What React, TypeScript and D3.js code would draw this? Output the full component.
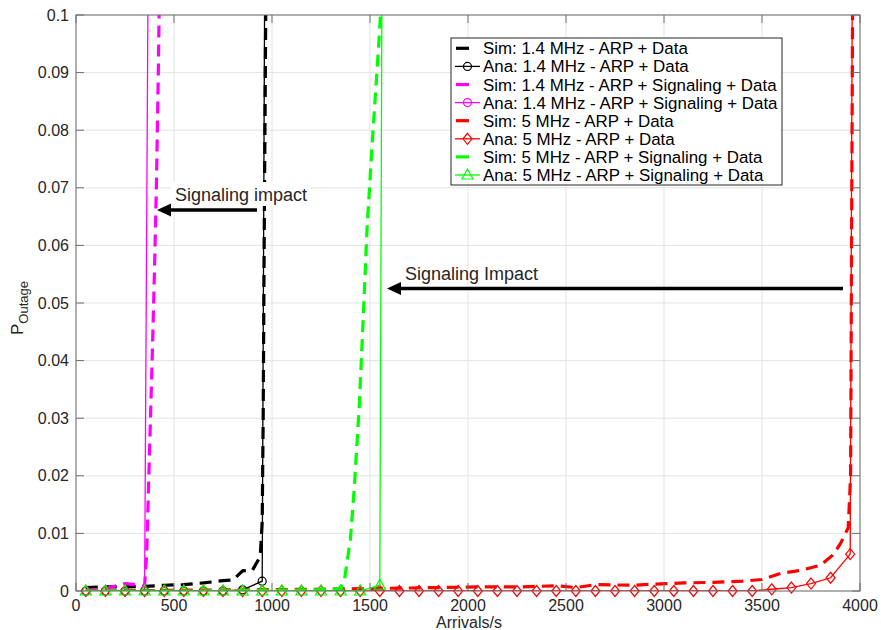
import React from 'react';
import * as d3 from 'd3';

type Pt = [number, number];

// x ticks / y ticks
const X_TICKS = [0, 500, 1000, 1500, 2000, 2500, 3000, 3500, 4000];
const Y_TICKS = [0, 0.01, 0.02, 0.03, 0.04, 0.05, 0.06, 0.07, 0.08, 0.09, 0.1];

// 1.4 MHz - ARP + Data
const sim14Data: Pt[] = [
  [50, 0.0006], [150, 0.0007], [250, 0.0007], [350, 0.0008], [450, 0.001], [550, 0.0011],
  [650, 0.0014], [750, 0.0018], [800, 0.0019], [850, 0.0035], [900, 0.0036], [940, 0.006],
  [950, 0.012], [955, 0.03], [960, 0.06], [968, 0.1], [975, 0.14],
];
const ana14Data: Pt[] = [
  [50, 0], [150, 0], [250, 0], [350, 0], [450, 0], [550, 0], [650, 0], [750, 0],
  [850, 0.0002], [950, 0.0017], [1050, 0.82],
];

// 1.4 MHz - ARP + Signaling + Data
const sim14Sig: Pt[] = [
  [50, 0.0001], [150, 0.0004], [250, 0.0013], [300, 0.0011], [340, 0.0008], [350, 0.001],
  [360, 0.006], [370, 0.018], [380, 0.03], [390, 0.042], [400, 0.055], [410, 0.07],
  [420, 0.09], [430, 0.115],
];
const ana14Sig: Pt[] = [[50, 0], [150, 0], [250, 0], [350, 0], [450, 0.6]];

// 5 MHz - ARP + Data
const sim5Data: Pt[] = [
  [50, 0], [450, 0.0001], [850, 0.0002], [1250, 0.0003], [1450, 0.0004], [1650, 0.0005],
  [1850, 0.0006], [2050, 0.0007], [2250, 0.0007], [2450, 0.0009], [2550, 0.0006],
  [2650, 0.0011], [2850, 0.001], [2950, 0.0012], [3100, 0.0014], [3250, 0.0015],
  [3400, 0.0017], [3500, 0.002], [3600, 0.0031], [3700, 0.0036], [3800, 0.0045],
  [3860, 0.0062], [3900, 0.0082], [3940, 0.011], [3952, 0.02], [3962, 0.1], [3970, 0.15],
];
const ana5Data: Pt[] = [
  [50, 0], [150, 0], [250, 0], [350, 0], [450, 0], [550, 0], [650, 0], [750, 0], [850, 0],
  [950, 0], [1050, 0], [1150, 0], [1250, 0], [1350, 0], [1450, 0], [1550, 0], [1650, 0],
  [1750, 0], [1850, 0], [1950, 0], [2050, 0], [2150, 0], [2250, 0], [2350, 0], [2450, 0],
  [2550, 0], [2650, 0], [2750, 0], [2850, 0], [2950, 0], [3050, 0], [3150, 0], [3250, 0],
  [3350, 0], [3450, 0], [3550, 0.0003], [3650, 0.0006], [3750, 0.0013], [3850, 0.0023],
  [3950, 0.0064], [4050, 0.94],
];

// 5 MHz - ARP + Signaling + Data
const sim5Sig: Pt[] = [
  [50, 0], [350, 0], [650, 0], [950, 0.0001], [1250, 0.0002], [1350, 0.0004], [1370, 0.002],
  [1400, 0.009], [1420, 0.018], [1445, 0.032], [1465, 0.047], [1485, 0.063], [1510, 0.077],
  [1535, 0.09], [1552, 0.099], [1560, 0.107],
];
const ana5Sig: Pt[] = [
  [50, 0], [150, 0], [250, 0], [350, 0], [450, 0], [550, 0], [650, 0], [750, 0], [850, 0],
  [950, 0], [1050, 0], [1150, 0], [1250, 0], [1350, 0], [1450, 0], [1550, 0.001], [1650, 0.95],
];

type Marker = 'none' | 'circle' | 'diamond' | 'triangle';

interface Series {
  label: string;
  data: Pt[];
  color: string;
  dashed: boolean;
  marker: Marker;
}

const SERIES: Series[] = [
  { label: 'Sim: 1.4 MHz - ARP + Data', data: sim14Data, color: '#000000', dashed: true, marker: 'none' },
  { label: 'Ana: 1.4 MHz - ARP + Data', data: ana14Data, color: '#000000', dashed: false, marker: 'circle' },
  { label: 'Sim: 1.4 MHz - ARP + Signaling + Data', data: sim14Sig, color: '#ff00ff', dashed: true, marker: 'none' },
  { label: 'Ana: 1.4 MHz - ARP + Signaling + Data', data: ana14Sig, color: '#ff00ff', dashed: false, marker: 'circle' },
  { label: 'Sim: 5 MHz - ARP + Data', data: sim5Data, color: '#ff0000', dashed: true, marker: 'none' },
  { label: 'Ana: 5 MHz - ARP + Data', data: ana5Data, color: '#ff0000', dashed: false, marker: 'diamond' },
  { label: 'Sim: 5 MHz - ARP + Signaling + Data', data: sim5Sig, color: '#00ff00', dashed: true, marker: 'none' },
  { label: 'Ana: 5 MHz - ARP + Signaling + Data', data: ana5Sig, color: '#00ff00', dashed: false, marker: 'triangle' },
];

const W = 881;
const H = 630;
const margin = { left: 76, right: 21, top: 15, bottom: 39 };
const FONT = '"Liberation Sans", Arial, Helvetica, sans-serif';

const markerPath = (m: Marker): string => {
  if (m === 'diamond') return 'M0,-5.5L4.5,0L0,5.5L-4.5,0Z';
  if (m === 'triangle') return 'M0,-6L5.5,4L-5.5,4Z';
  return '';
};

const MarkerShape: React.FC<{ m: Marker; x: number; y: number; color: string }> = ({ m, x, y, color }) => {
  if (m === 'circle') {
    return <circle cx={x} cy={y} r={4} fill="none" stroke={color} strokeWidth={1.2} />;
  }
  return <path d={markerPath(m)} transform={`translate(${x},${y})`} fill="none" stroke={color} strokeWidth={1.2} />;
};

export default function App() {
  const x = d3.scaleLinear().domain([0, 4000]).range([margin.left, W - margin.right]);
  const y = d3.scaleLinear().domain([0, 0.1]).range([H - margin.bottom, margin.top]);
  const line = d3.line<Pt>().x((d) => x(d[0])).y((d) => y(d[1]));

  const x0 = x(0), x1 = x(4000), y0 = y(0), y1 = y(0.1);
  const tick = 8;

  const legendX = 451, legendY = 38, legendW = 331, legendH = 147;
  const rowH = 18.1;

  return (
    <svg
      width={W}
      height={H}
      style={{ position: 'absolute', left: 0, top: 0, display: 'block', background: '#fff' }}
      fontFamily={FONT}
    >
      <defs>
        <clipPath id="plot-clip">
          <rect x={x0} y={y1} width={x1 - x0} height={y0 - y1} />
        </clipPath>
      </defs>

      {/* grid */}
      <g stroke="#e3e3e3" strokeWidth={1}>
        {X_TICKS.map((t) => (
          <line key={`gx${t}`} x1={x(t)} x2={x(t)} y1={y1} y2={y0} />
        ))}
        {Y_TICKS.map((t) => (
          <line key={`gy${t}`} x1={x0} x2={x1} y1={y(t)} y2={y(t)} />
        ))}
      </g>

      {/* series */}
      {SERIES.map((s) => (
        <g key={s.label}>
          <path
            d={line(s.data) || ''}
            fill="none"
            stroke={s.color}
            strokeWidth={s.dashed ? 3.2 : 1.3}
            strokeDasharray={s.dashed ? '12,7' : undefined}
            clipPath="url(#plot-clip)"
          />
          {s.marker !== 'none' &&
            s.data
              .filter((d) => d[0] <= 4000 && d[1] <= 0.1)
              .map((d, i) => <MarkerShape key={i} m={s.marker} x={x(d[0])} y={y(d[1])} color={s.color} />)}
        </g>
      ))}

      {/* axes box */}
      <g stroke="#6e6e6e" strokeWidth={1} fill="none">
        <rect x={x0} y={y1} width={x1 - x0} height={y0 - y1} />
        {X_TICKS.map((t) => (
          <g key={`tx${t}`}>
            <line x1={x(t)} x2={x(t)} y1={y0} y2={y0 - tick} />
            <line x1={x(t)} x2={x(t)} y1={y1} y2={y1 + tick} />
          </g>
        ))}
        {Y_TICKS.map((t) => (
          <g key={`ty${t}`}>
            <line x1={x0} x2={x0 + tick} y1={y(t)} y2={y(t)} />
            <line x1={x1} x2={x1 - tick} y1={y(t)} y2={y(t)} />
          </g>
        ))}
      </g>

      {/* tick labels */}
      <g fill="#262626" fontSize={16}>
        {X_TICKS.map((t) => (
          <text key={`lx${t}`} x={x(t)} y={611} textAnchor="middle">
            {t}
          </text>
        ))}
        {Y_TICKS.map((t) => (
          <text key={`ly${t}`} x={69} y={y(t)} dy="0.35em" textAnchor="end">
            {String(t)}
          </text>
        ))}
      </g>

      {/* axis labels */}
      <text x={(x0 + x1) / 2 + 1} y={628} textAnchor="middle" fontSize={16} fill="#262626">
        Arrivals/s
      </text>
      <text transform="translate(23,308) rotate(-90)" textAnchor="middle" fontSize={17} fill="#262626">
        P
        <tspan fontSize={13} dy={5}>
          Outage
        </tspan>
      </text>

      {/* annotations */}
      <rect x={171} y={182} width={140} height={24} fill="#fff" />
      <text x={175} y={201} fontSize={18} fill="#262626">
        Signaling impact
      </text>
      <line x1={257} x2={170} y1={210} y2={210} stroke="#000" strokeWidth={3.5} />
      <path d="M157,210L171,203.5L171,216.5Z" fill="#000" />

      <text x={405} y={280} fontSize={18} fill="#262626">
        Signaling Impact
      </text>
      <line x1={843} x2={400} y1={288.5} y2={288.5} stroke="#000" strokeWidth={3.5} />
      <path d="M387,288.5L401,282L401,295Z" fill="#000" />

      {/* legend */}
      <rect x={legendX} y={legendY} width={legendW} height={legendH} fill="#fff" stroke="#262626" strokeWidth={1} />
      {SERIES.map((s, i) => {
        const cy = legendY + 10.3 + i * rowH;
        return (
          <g key={`lg${i}`}>
            {s.dashed ? (
              <line x1={456} x2={469} y1={cy} y2={cy} stroke={s.color} strokeWidth={3.2} />
            ) : (
              <>
                <line x1={455} x2={480} y1={cy} y2={cy} stroke={s.color} strokeWidth={1.3} />
                <MarkerShape m={s.marker} x={467.5} y={cy} color={s.color} />
              </>
            )}
            <text x={483} y={cy} dy="0.36em" fontSize={16.9} fill="#000">
              {s.label}
            </text>
          </g>
        );
      })}
    </svg>
  );
}
